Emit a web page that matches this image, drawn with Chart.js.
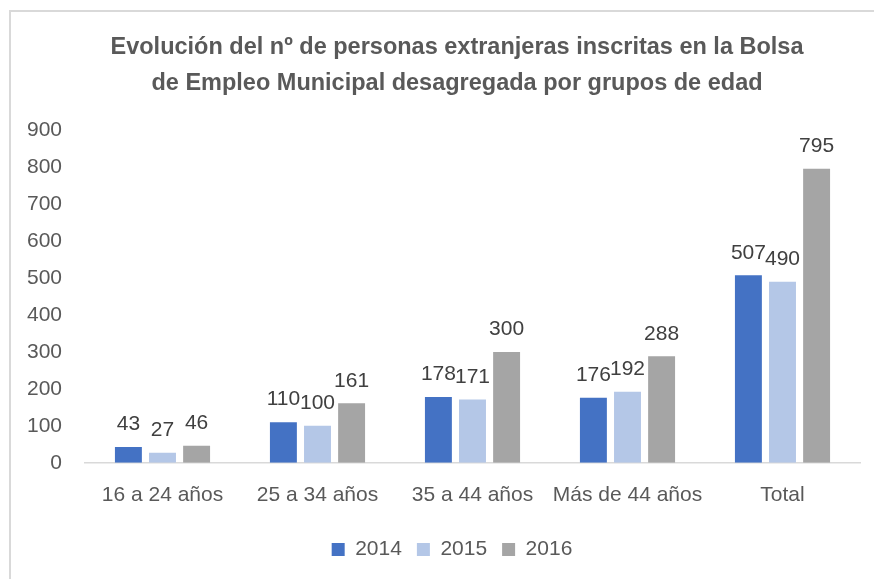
<!DOCTYPE html>
<html>
<head>
<meta charset="utf-8">
<script src="https://cdn.jsdelivr.net/npm/chart.js@4/dist/chart.umd.min.js"></script>
<style>
  html, body { margin: 0; padding: 0; background: #ffffff; }
  #wrap { position: relative; width: 874px; height: 579px; overflow: hidden; background: #fff; }
  #frame { position: absolute; left: 9px; top: 10px; width: 900px; height: 600px;
           border-left: 2px solid #d9d9d9; border-top: 2px solid #d9d9d9; box-sizing: border-box; }
  canvas { position: absolute; left: 0; top: 0; }
</style>
</head>
<body>
<div id="wrap">
  <div id="frame"></div>
  <canvas id="c" width="874" height="579"></canvas>
</div>
<script>
const categories = ["16 a 24 años", "25 a 34 años", "35 a 44 años", "Más de 44 años", "Total"];
const seriesNames = ["2014", "2015", "2016"];
const values2014 = [43, 110, 178, 176, 507];
const values2015 = [27, 100, 171, 192, 490];
const values2016 = [46, 161, 300, 288, 795];
const yTicks = [0, 100, 200, 300, 400, 500, 600, 700, 800, 900];
const titleLines = ["Evolución del nº de personas extranjeras inscritas en la Bolsa",
                    "de Empleo Municipal desagregada por grupos de edad"];
const colors = ["#4472C4", "#B4C7E7", "#A5A5A5"];

const FONT = "'Liberation Sans', Arial, sans-serif";

const dataLabels = {
  id: 'dataLabels',
  afterDatasetsDraw(chart) {
    const ctx = chart.ctx;
    ctx.save();
    ctx.font = "21px " + FONT;
    ctx.fillStyle = "#404040";
    ctx.textAlign = "center";
    ctx.textBaseline = "bottom";
    chart.data.datasets.forEach((ds, i) => {
      const meta = chart.getDatasetMeta(i);
      meta.data.forEach((bar, j) => {
        ctx.fillText(String(ds.data[j]), bar.x, bar.y - 12);
      });
    });
    ctx.restore();
  }
};

// Visible title text (the title plugin only reserves the space)
const titleText = {
  id: 'titleText',
  afterDraw(chart) {
    const ctx = chart.ctx;
    ctx.save();
    ctx.font = "bold 23.5px " + FONT;
    ctx.fillStyle = "#595959";
    ctx.textAlign = "center";
    ctx.textBaseline = "middle";
    ctx.fillText(titleLines[0], 457, 48);
    ctx.fillText(titleLines[1], 457, 83.5);
    ctx.restore();
  }
};

// Nudge the legend box to the reference position
const legendShift = {
  id: 'legendShift',
  afterLayout(chart) {
    const lg = chart.legend;
    if (!lg) return;
    lg.left += 10; lg.right += 10;
    lg.top -= 4; lg.bottom -= 4;
  }
};

new Chart(document.getElementById('c'), {
  type: 'bar',
  data: {
    labels: categories,
    datasets: [
      { label: seriesNames[0], data: values2014, backgroundColor: colors[0] },
      { label: seriesNames[1], data: values2015, backgroundColor: colors[1] },
      { label: seriesNames[2], data: values2016, backgroundColor: colors[2] }
    ]
  },
  options: {
    responsive: false,
    animation: false,
    devicePixelRatio: 1,
    layout: { padding: { left: 24, right: 14, top: 0, bottom: 5 } },
    datasets: { bar: { categoryPercentage: 0.66, barPercentage: 0.79 } },
    scales: {
      x: {
        grid: { display: false, drawTicks: false },
        border: { display: true, color: '#d9d9d9', width: 1.5 },
        ticks: { color: '#595959', font: { family: FONT, size: 21 }, padding: 20, maxRotation: 0, autoSkip: false }
      },
      y: {
        min: 0, max: 900,
        afterBuildTicks(scale) { scale.ticks = yTicks.map(v => ({ value: v })); },
        afterFit(scale) { scale.width = 61; },
        grid: { display: false, drawTicks: false },
        border: { display: false },
        ticks: { color: '#595959', font: { family: FONT, size: 21 }, padding: 23 }
      }
    },
    plugins: {
      title: {
        display: true,
        text: titleLines,
        color: 'rgba(0,0,0,0)',
        font: { family: FONT, size: 23.5, weight: 'bold', lineHeight: 1.49 },
        padding: { top: 28, bottom: 32 }
      },
      legend: {
        position: 'bottom',
        labels: {
          color: '#595959',
          font: { family: FONT, size: 21 },
          boxWidth: 13, boxHeight: 13, padding: 15
        }
      },
      tooltip: { enabled: false }
    }
  },
  plugins: [dataLabels, titleText, legendShift]
});
</script>
</body>
</html>
